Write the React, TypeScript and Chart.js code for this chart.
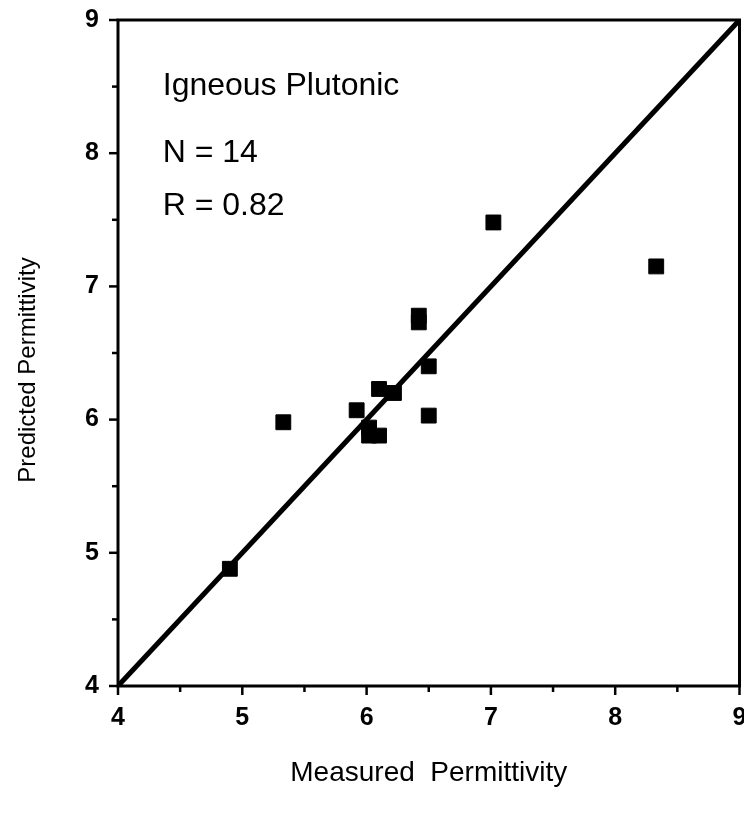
import React, { useEffect, useRef } from 'react';
import { Chart, registerables } from 'chart.js';

Chart.register(...registerables);

// Data
const measured = [4.9, 5.33, 5.92, 6.02, 6.02, 6.1, 6.1, 6.22, 6.42, 6.42, 6.5, 6.5, 7.02, 8.33];
const predicted = [4.88, 5.98, 6.07, 5.94, 5.88, 5.88, 6.23, 6.2, 6.78, 6.73, 6.4, 6.03, 7.48, 7.15];
const identityX = [4, 9];
const identityY = [4, 9];
const axisMin = 4;
const axisMax = 9;
const minorTicks = [4.5, 5.5, 6.5, 7.5, 8.5];
const majorTicks = [4, 5, 6, 7, 8, 9];
const annotationLines = ['Igneous Plutonic', 'N = 14', 'R = 0.82'];
const annotationY = [8.5, 8.0, 7.6];
const annotationX = 4.36;
const xTitle = 'Measured  Permittivity';
const yTitle = 'Predicted Permittivity';

const FONT = '"Liberation Sans", Arial, Helvetica, sans-serif';

const framePlugin = {
  id: 'framePlugin',
  afterDraw(chart: any) {
    const ctx = chart.ctx;
    const { left, right, top, bottom } = chart.chartArea;
    const xs = chart.scales.x;
    const ys = chart.scales.y;
    ctx.save();
    ctx.strokeStyle = '#000';
    ctx.lineWidth = 3;
    ctx.lineCap = 'square';
    ctx.beginPath();
    ctx.moveTo(left, top);
    ctx.lineTo(right, top);
    ctx.lineTo(right, bottom);
    ctx.lineTo(left, bottom);
    ctx.closePath();
    ctx.stroke();
    // tick marks
    ctx.lineWidth = 2.5;
    ctx.lineCap = 'butt';
    majorTicks.forEach((v) => {
      const px = xs.getPixelForValue(v);
      ctx.beginPath();
      ctx.moveTo(px, bottom);
      ctx.lineTo(px, bottom + 9);
      ctx.stroke();
      const py = ys.getPixelForValue(v);
      ctx.beginPath();
      ctx.moveTo(left, py);
      ctx.lineTo(left - 9, py);
      ctx.stroke();
    });
    minorTicks.forEach((v) => {
      const px = xs.getPixelForValue(v);
      ctx.beginPath();
      ctx.moveTo(px, bottom);
      ctx.lineTo(px, bottom + 6);
      ctx.stroke();
      const py = ys.getPixelForValue(v);
      ctx.beginPath();
      ctx.moveTo(left, py);
      ctx.lineTo(left - 6, py);
      ctx.stroke();
    });
    // annotations
    ctx.fillStyle = '#000';
    ctx.font = `32px ${FONT}`;
    ctx.textAlign = 'left';
    ctx.textBaseline = 'middle';
    annotationLines.forEach((t, i) => {
      ctx.fillText(t, xs.getPixelForValue(annotationX), ys.getPixelForValue(annotationY[i]));
    });
    // axis titles
    ctx.font = `28px ${FONT}`;
    ctx.textAlign = 'center';
    ctx.fillText(xTitle, (left + right) / 2, 773);
    ctx.save();
    ctx.translate(28, 370);
    ctx.rotate(-Math.PI / 2);
    ctx.font = `24px ${FONT}`;
    ctx.fillText(yTitle, 0, 0);
    ctx.restore();
    ctx.restore();
  },
};

export default function App() {
  const ref = useRef<HTMLCanvasElement>(null);
  useEffect(() => {
    if (!ref.current) return;
    const chart = new Chart(ref.current, {
      type: 'scatter',
      data: {
        datasets: [
          {
            type: 'line',
            data: identityX.map((x, i) => ({ x, y: identityY[i] })),
            borderColor: '#000',
            borderWidth: 5,
            pointRadius: 0,
            fill: false,
          } as any,
          {
            data: measured.map((x, i) => ({ x, y: predicted[i] })),
            pointStyle: 'rect',
            pointRadius: 10.5,
            backgroundColor: '#000',
            borderColor: '#000',
            borderWidth: 1,
          },
        ],
      },
      options: {
        animation: false,
        responsive: false,
        layout: { padding: { top: 20, right: 0, left: 0, bottom: 0 } },
        plugins: { legend: { display: false }, tooltip: { enabled: false } },
        scales: {
          x: {
            type: 'linear',
            min: axisMin,
            max: axisMax,
            grid: { display: false, drawTicks: true, tickLength: 17 },
            border: { display: false },
            ticks: {
              stepSize: 1,
              padding: 0,
              color: '#000',
              font: { family: FONT, size: 25, weight: 'bold' },
            },
            afterFit: (s: any) => {
              s.height = 130;
            },
          },
          y: {
            type: 'linear',
            min: axisMin,
            max: axisMax,
            grid: { display: false, drawTicks: true, tickLength: 19 },
            border: { display: false },
            ticks: {
              stepSize: 1,
              padding: 0,
              color: '#000',
              font: { family: FONT, size: 25, weight: 'bold' },
            },
            afterFit: (s: any) => {
              s.width = 118;
            },
          },
        },
      },
      plugins: [framePlugin],
    });
    return () => chart.destroy();
  }, []);
  return (
    <div style={{ position: 'absolute', left: 0, top: 0, width: 744, height: 816, background: '#fff', overflow: 'hidden' }}>
      <canvas ref={ref} width={751} height={816} style={{ display: 'block' }} />
    </div>
  );
}
